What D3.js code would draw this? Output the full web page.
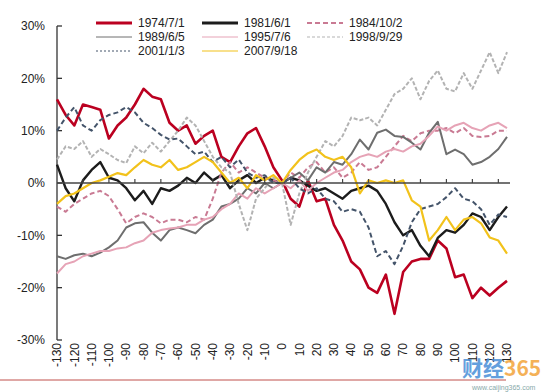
<!DOCTYPE html>
<meta charset="utf-8">
<script src="https://d3js.org/d3.v7.min.js"></script>
<style>
  body { margin: 0; background: #fff; font-family: "Liberation Sans", Arial, sans-serif; }
  svg { display: block; }
</style>
<div id="chart"></div>
<script>
// days relative to the event date
var days = [-130,-125,-120,-115,-110,-105,-100,-95,-90,-85,-80,-75,-70,-65,-60,-55,-50,-45,-40,-35,-30,-25,-20,-15,-10,-5,0,
            5,10,15,20,25,30,35,40,45,50,55,60,65,70,75,80,85,90,95,100,105,110,115,120,125,130];

var xTickLabels = [-130,-120,-110,-100,-90,-80,-70,-60,-50,-40,-30,-20,-10,0,10,20,30,40,50,60,70,80,90,100,110,120,130];
var yTickLabels = [30,20,10,0,-10,-20,-30];

// cumulative change, %
var s1974 = [16,13,11,15,14.5,14,8.5,11,12.5,15,18,16.5,16,11.5,10,11,7.5,9,10,5,4,7,9.5,10.5,7,3,0.5,
             -3,-4.5,0.5,-3.5,-3,-8,-11,-15,-16.5,-20,-21,-17.5,-25,-17,-15,-14.5,-14.5,-11,-12.5,-18,-17.5,-22,-20,-21.5,-20,-18.7];
var s1981 = [3.5,-1,-3.5,0.5,2.5,4,1,0.5,-1,-3.3,-1.5,-4,-1,-1.5,-0.5,1,0,2,0.5,1.5,-1,0.5,1.5,0,1,0.5,0,
             1,0.5,-0.5,-1.5,-1,-2,-3,-1.5,-1,-0.5,-1.5,-4,-7.5,-10,-9,-12,-14,-10.5,-9,-9.5,-8,-5.8,-6.5,-9,-6.5,-4.5];
var s1984 = [-4.5,-5.5,-4,-3,-2,-1.5,-2.5,-5,-7.7,-6.5,-5.8,-6.5,-7.7,-7,-7,-7.5,-6.5,-7,-3,2,4,2,3,2,1,0.5,0,
             2,1,3,4,2,3,1,2,4,2.5,3,5,7,9,8,9.5,10,10,10.5,9.5,10.5,9,8.8,9,10,10];
var s1989 = [-14,-14.5,-13.8,-13.5,-14,-13.3,-12.3,-11,-8.5,-7.7,-7.5,-9.5,-11,-9,-8.5,-9,-9.6,-8,-7,-4.5,-4,-3,-1,-2,0,-1,0,
             1,2,0.5,3,2,4,3.5,5.5,8.3,6.4,9.6,10.2,9,8.8,7.7,6.4,9.6,11.7,5.5,6.4,5.5,3.5,4,5,6.5,8.8];
var s1995 = [-17.3,-15.5,-15,-14,-13.5,-13,-13,-12.5,-12.3,-11.5,-11,-9.5,-9,-8.7,-8.5,-8,-8,-7,-6.5,-5,-4,-2,-3,-1,-2,-1,0,
             -1,0.5,-1.5,0,1,2,2.5,4,5,5.5,5,6,6.5,6,7,7.5,9,10.8,10,11,11.5,10.5,10,11,11.5,10.5];
var s1998 = [4.5,7,6.5,8,5,6.5,5.5,4.4,3.8,7,5.7,7.7,6,8,10,12.5,11,8,5,3,2,-4,-9,-3,-1,1,0,
             -8,-2,2,5,8,7,9,12.5,12,12.5,11,14,17,18,20,16,19.5,21.5,18,17.5,21,18,21.5,25,21,25];
var s2001 = [10,12.5,14.5,11,10,12,13,13.5,14.5,13.5,11.5,10.5,9.2,8.3,8.5,7,5.5,6,4,5,3,4.5,2,1,1.5,0,0,
             1,-1,-2,-1,-3,-3.5,-5.5,-5,-5.5,-8.5,-14,-13,-15.5,-12,-7.5,-5,-4.5,-4,-2.7,-1,-3,-3.5,-5,-8,-6,-6.5];
var s2007 = [-4,-2.5,-2,-1,0,0.5,1.2,1.9,1.5,3,4.4,3.5,3,4.4,2.5,3,4,5,4,2,0,1,-1,1.5,0.5,1.5,0,
             2.5,4.4,5.7,6.4,5,4.4,5,3,-2,0.5,0,0.5,0,0.5,-3.3,-4.5,-11,-9,-6.5,-9,-7,-6.5,-7.7,-10.4,-11,-13.5];

var seriesNames = ["1974/7/1","1981/6/1","1984/10/2","1989/6/5","1995/7/6","1998/9/29","2001/1/3","2007/9/18"];
var seriesValues = [s1974, s1981, s1984, s1989, s1995, s1998, s2001, s2007];

var styles = [
  {color: "#bb0020", width: 2.6, dash: null,  lw: 3,   ld: null},
  {color: "#1c1c1c", width: 2.4, dash: null,  lw: 3,   ld: null},
  {color: "#c97a93", width: 2,   dash: "5,3", lw: 2,   ld: "5,3"},
  {color: "#6e6e6e", width: 2,   dash: null,  lw: 1,   ld: null},
  {color: "#e6a3b6", width: 2,   dash: null,  lw: 1,   ld: null},
  {color: "#b3b3b3", width: 2,   dash: "4,2", lw: 1,   ld: "3,2"},
  {color: "#44546a", width: 2,   dash: "5,3", lw: 1,   ld: "2,2"},
  {color: "#f2c21b", width: 2.2, dash: null,  lw: 1.2, ld: null}
];

var W = 544, H = 392;
var svg = d3.select("#chart").append("svg").attr("width", W).attr("height", H);

var x = d3.scaleLinear().domain([-130, 130]).range([57, 507]);
var y = d3.scaleLinear().domain([-30, 30]).range([340, 26]);

// y axis line with inward ticks
svg.append("line").attr("x1", 57).attr("x2", 57).attr("y1", y(30)).attr("y2", y(-30))
  .attr("stroke", "#333").attr("stroke-width", 1.3);
yTickLabels.forEach(function(v) {
  svg.append("line").attr("x1", 57).attr("x2", 62).attr("y1", y(v)).attr("y2", y(v))
    .attr("stroke", "#333").attr("stroke-width", 1.3);
  svg.append("text").attr("x", 45).attr("y", y(v)).attr("dy", "0.35em")
    .attr("text-anchor", "end").style("font-size", "12px").attr("fill", "#222")
    .text(v + "%");
});

// x tick labels, rotated
xTickLabels.forEach(function(v) {
  svg.append("text")
    .attr("transform", "translate(" + x(v) + ",343)rotate(-90)")
    .attr("text-anchor", "end").attr("dy", "0.35em")
    .style("font-size", "12px").attr("fill", "#222")
    .text(v);
});

// lines
var line = d3.line()
  .x(function(d, i) { return x(days[i]); })
  .y(function(d) { return y(d); });

seriesValues.forEach(function(vals, k) {
  var st = styles[k];
  svg.append("path").datum(vals)
    .attr("d", line)
    .attr("fill", "none")
    .attr("stroke", st.color)
    .attr("stroke-width", st.width)
    .attr("stroke-linejoin", "round")
    .attr("stroke-dasharray", st.dash);
});

// zero line with small upward ticks
svg.append("line").attr("x1", 57).attr("x2", x(130) + 3).attr("y1", y(0)).attr("y2", y(0))
  .attr("stroke", "#444").attr("stroke-width", 1.4);
for (var t = -115; t <= 130; t += 15) {
  svg.append("line").attr("x1", x(t)).attr("x2", x(t)).attr("y1", y(0)).attr("y2", y(0) - 4)
    .attr("stroke", "#444").attr("stroke-width", 1.2);
}

// legend
var legX = [96, 202, 307], legY = [23, 37, 51];
seriesNames.forEach(function(name, k) {
  var cx = legX[k % 3], cy = legY[Math.floor(k / 3)];
  var st = styles[k];
  svg.append("line").attr("x1", cx).attr("x2", cx + 36).attr("y1", cy).attr("y2", cy)
    .attr("stroke", st.color).attr("stroke-width", st.lw).attr("stroke-dasharray", st.ld);
  svg.append("text").attr("x", cx + 42).attr("y", cy).attr("dy", "0.35em")
    .style("font-size", "12px").attr("fill", "#222").text(name);
});

// bottom rule and watermark
svg.append("line").attr("x1", 0).attr("x2", 506).attr("y1", 380).attr("y2", 380)
  .attr("stroke", "#c0504d").attr("stroke-width", 1);
var wm = svg.append("text").attr("x", 462).attr("y", 376)
  .style("font-size", "21px").style("font-weight", "bold")
  .style("font-family", "'Noto Sans CJK SC', sans-serif").attr("opacity", 0.85);
wm.append("tspan").attr("fill", "#4a8fd8").text("财经");
wm.append("tspan").attr("fill", "#f3a43a").text("365");
svg.append("text").attr("x", 472).attr("y", 390).style("font-size", "7px")
  .attr("fill", "#8aa").text("www.caijing365.com");
</script>
